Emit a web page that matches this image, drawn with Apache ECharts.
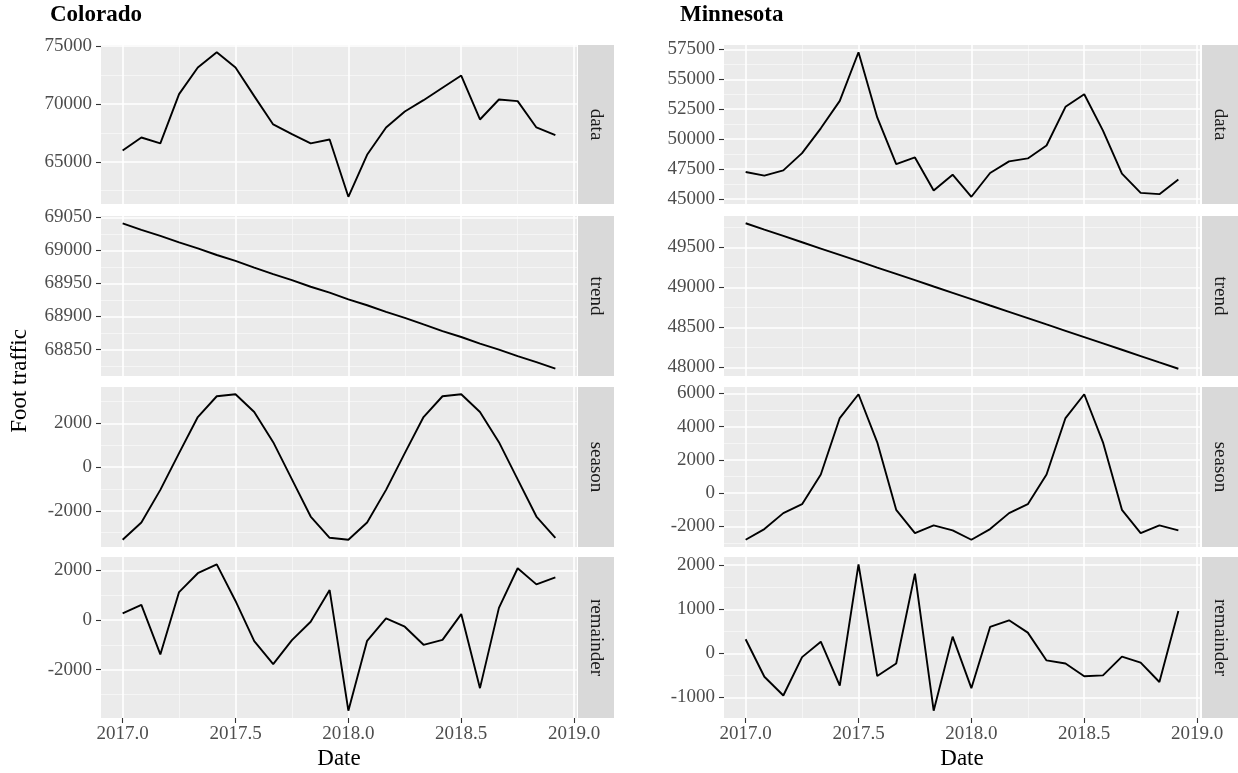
<!DOCTYPE html>
<html><head><meta charset="utf-8">
<script src="https://cdn.jsdelivr.net/npm/echarts@6/dist/echarts.min.js"></script>
<style>html,body{margin:0;padding:0;background:#fff}#c{width:1238px;height:773px}</style>
</head><body><div id="c"></div><script>
// ---------- data ----------
const dates = [2017.000, 2017.083, 2017.167, 2017.250, 2017.333, 2017.417, 2017.500, 2017.583, 2017.667, 2017.750, 2017.833, 2017.917,
               2018.000, 2018.083, 2018.167, 2018.250, 2018.333, 2018.417, 2018.500, 2018.583, 2018.667, 2018.750, 2018.833, 2018.917];
const components = ['data', 'trend', 'season', 'remainder'];

const coData      = [65980, 67100, 66590, 70850, 73160, 74480, 73160, 70680, 68230, 67390, 66590, 66930,
                     61970, 65600, 67970, 69350, 70330, 71400, 72460, 68660, 70390, 70250, 67970, 67310];
const coTrend     = [69041, 69031, 69022, 69012, 69003, 68993, 68984, 68974, 68964, 68955, 68945, 68936,
                     68926, 68917, 68907, 68898, 68888, 68878, 68869, 68859, 68850, 68840, 68831, 68821];
const coSeason    = [-3320, -2530, -1040, 640, 2290, 3240, 3330, 2520, 1140, -560, -2260, -3230,
                     -3320, -2530, -1040, 640, 2290, 3240, 3330, 2520, 1140, -560, -2260, -3230];
const coRemainder = [270, 610, -1390, 1130, 1890, 2250, 770, -850, -1780, -810, -70, 1210,
                     -3660, -840, 70, -270, -1000, -800, 240, -2750, 490, 2090, 1440, 1720];

const mnData      = [47240, 46940, 47380, 48820, 50900, 53200, 57270, 51810, 47910, 48460, 45690, 47020,
                     45170, 47160, 48130, 48380, 49460, 52700, 53750, 50710, 47110, 45500, 45390, 46610];
const mnTrend     = [49800, 49721, 49642, 49563, 49484, 49405, 49326, 49247, 49168, 49089, 49010, 48931,
                     48852, 48773, 48694, 48615, 48536, 48457, 48378, 48299, 48220, 48141, 48062, 47983];
const mnSeason    = [-2800, -2160, -1200, -660, 1120, 4520, 5950, 3060, -1000, -2400, -1940, -2240,
                     -2800, -2160, -1200, -660, 1120, 4520, 5950, 3060, -1000, -2400, -1940, -2240];
const mnRemainder = [320, -530, -955, -85, 265, -730, 2020, -515, -230, 1810, -1300, 380,
                     -790, 600, 750, 470, -160, -230, -520, -500, -75, -210, -650, 960];

// tick labels
const xTicks = [2017.0, 2017.5, 2018.0, 2018.5, 2019.0];
const coTicks = [[65000, 70000, 75000], [68850, 68900, 68950, 69000, 69050], [-2000, 0, 2000], [-2000, 0, 2000]];
const mnTicks = [[45000, 47500, 50000, 52500, 55000, 57500], [48000, 48500, 49000, 49500], [-2000, 0, 2000, 4000, 6000], [-1000, 0, 1000, 2000]];

const states = ['Colorado', 'Minnesota'];
const yTitle = 'Foot traffic';
const xTitle = 'Date';

// ---------- layout ----------
const FONT = '"Liberation Serif", "Times New Roman", serif';
const PW = 476, STRIPW = 36;
const rowTop = [45, 216, 387, 557];
const rowH = [159, 160, 160, 161];
const colLeft = [101, 724];
const stripLeft = [578, 1202];
const titleLeft = [50, 680];

const cols = [
  {series: [coData, coTrend, coSeason, coRemainder], ticks: coTicks},
  {series: [mnData, mnTrend, mnSeason, mnRemainder], ticks: mnTicks}
];

function expand(arr) {
  const lo = Math.min(...arr), hi = Math.max(...arr), p = 0.05 * (hi - lo);
  return [lo - p, hi + p];
}
function minors(ticks, lo, hi) {
  const out = [];
  const step = ticks.length > 1 ? ticks[1] - ticks[0] : 0;
  const ext = [ticks[0] - step, ...ticks, ticks[ticks.length - 1] + step];
  for (let i = 0; i < ext.length - 1; i++) {
    const m = (ext[i] + ext[i + 1]) / 2;
    if (m > lo && m < hi) out.push(m);
  }
  return out;
}

const [xMin, xMax] = expand(dates);
const xMinor = minors(xTicks, xMin, xMax);

const grid = [], xAxis = [], yAxis = [], series = [], graphic = [];
const hiddenLine = {show: true, onZero: false, lineStyle: {color: 'rgba(0,0,0,0)', width: 0}};
const tickStyle = {color: '#333333', width: 1.1};

cols.forEach((col, c) => {
  col.series.forEach((vals, r) => {
    const gi = c * 4 + r;
    const [yMin, yMax] = expand(vals);
    const yt = col.ticks[r];
    const yMinor = minors(yt, yMin, yMax);
    const bottomRow = r === 3;
    grid.push({left: colLeft[c], top: rowTop[r], width: PW, height: rowH[r],
      show: true, backgroundColor: '#EBEBEB', borderWidth: 0, containLabel: false});
    xAxis.push({type: 'value', gridIndex: gi, min: xMin, max: xMax, position: 'bottom',
      axisLine: hiddenLine, splitLine: {show: false},
      axisTick: {show: bottomRow, customValues: xTicks, length: 5, lineStyle: tickStyle},
      axisLabel: {show: bottomRow, customValues: xTicks, margin: 7, color: '#4D4D4D',
        fontFamily: FONT, fontSize: 19, formatter: v => Number(v).toFixed(1)}
    });
    yAxis.push({type: 'value', gridIndex: gi, min: yMin, max: yMax, position: 'left',
      axisLine: hiddenLine, splitLine: {show: false},
      axisTick: {show: true, customValues: yt, length: 5, lineStyle: tickStyle},
      axisLabel: {show: true, customValues: yt, margin: 9, color: '#4D4D4D',
        fontFamily: FONT, fontSize: 19, formatter: v => String(v)}
    });
    const ml = [];
    yMinor.forEach(v => ml.push({yAxis: v, lineStyle: {width: 0.8, color: '#F8F8F8', type: 'solid'}}));
    xMinor.forEach(v => ml.push({xAxis: v, lineStyle: {width: 0.8, color: '#F8F8F8', type: 'solid'}}));
    yt.forEach(v => ml.push({yAxis: v, lineStyle: {width: 1.6, color: '#FFFFFF', type: 'solid'}}));
    xTicks.forEach(v => ml.push({xAxis: v, lineStyle: {width: 1.6, color: '#FFFFFF', type: 'solid'}}));
    series.push({type: 'line', xAxisIndex: gi, yAxisIndex: gi, z: 3,
      data: dates.map((d, i) => [d, vals[i]]),
      showSymbol: false, symbol: 'none', animation: false,
      lineStyle: {color: '#000000', width: 1.9},
      markLine: {silent: true, z: 1, symbol: ['none', 'none'], animation: false,
        lineStyle: {type: 'solid'},
        label: {show: false}, emphasis: {disabled: true}, data: ml}
    });
    graphic.push({type: 'rect', shape: {x: stripLeft[c], y: rowTop[r], width: STRIPW, height: rowH[r]},
      style: {fill: '#D9D9D9'}, silent: true});
    graphic.push({type: 'text', x: stripLeft[c] + STRIPW / 2, y: rowTop[r] + rowH[r] / 2, rotation: -Math.PI / 2,
      style: {text: components[r], font: '19px ' + FONT, fill: '#1A1A1A', align: 'center', verticalAlign: 'middle'}, silent: true});
  });
  graphic.push({type: 'text', x: titleLeft[c], y: 15,
    style: {text: states[c], font: 'bold 23px ' + FONT, fill: '#000', align: 'left', verticalAlign: 'middle'}});
  graphic.push({type: 'text', x: colLeft[c] + PW / 2, y: 759,
    style: {text: xTitle, font: '23px ' + FONT, fill: '#000', align: 'center', verticalAlign: 'middle'}});
});
graphic.push({type: 'text', x: 20, y: 381, rotation: Math.PI / 2,
  style: {text: yTitle, font: '23px ' + FONT, fill: '#000', align: 'center', verticalAlign: 'middle'}});

const chart = echarts.init(document.getElementById('c'));
chart.setOption({animation: false, backgroundColor: '#FFFFFF', grid, xAxis, yAxis, series, graphic});
</script></body></html>
